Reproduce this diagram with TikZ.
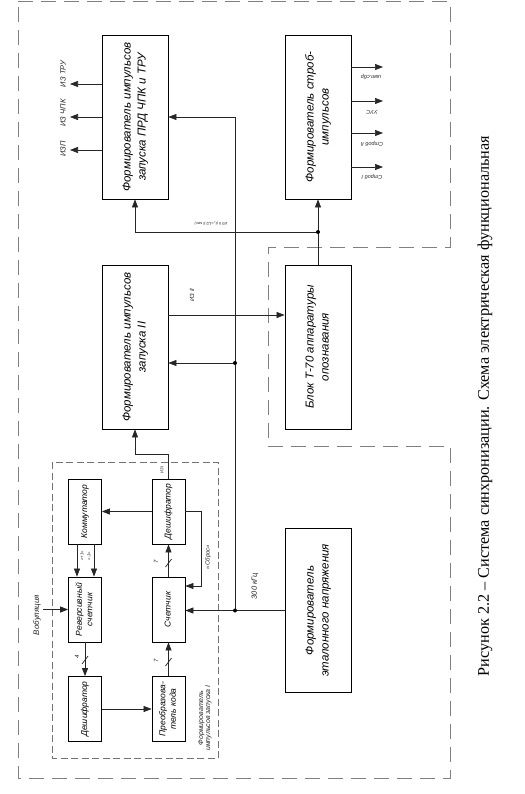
\documentclass[tikz,border=0pt]{standalone}
\usepackage{fontspec}
\setmainfont{Liberation Serif}
\newfontfamily\arial{Liberation Sans}
\usetikzlibrary{arrows.meta}
\newcommand{\rottext}[1]{\rotatebox{90}{\begin{tabular}{@{}c@{}}#1\end{tabular}}}
\begin{document}
\begin{tikzpicture}[x=1pt,y=-1pt,
  line/.style={draw=black!85, line width=0.7pt},
  arr/.style={line, -{Triangle[length=8pt,width=6pt]}},
  bigbox/.style={draw=black, line width=0.8pt, inner sep=0pt, minimum width=66pt, minimum height=164pt,
     font=\arial\itshape\fontsize{11.5}{15}\selectfont},
  smallbox/.style={draw=black, line width=0.8pt, inner sep=0pt, minimum width=33pt, minimum height=65pt,
     font=\arial\itshape\fontsize{8.5}{10.5}\selectfont},
  lab/.style={font=\arial\itshape\fontsize{#1}{#1}\selectfont, inner sep=0pt, text=black!85},
  outerdash/.style={draw=black!50, line width=1pt, dash pattern=on 15pt off 8pt},
  innerdash/.style={draw=black!55, line width=0.8pt, dash pattern=on 7pt off 3.5pt},
  dot/.style={circle, fill=black, inner sep=0pt, minimum size=4pt}
]
\useasboundingbox (0,0) rectangle (524,794);
\fill[white] (0,0) rectangle (524,794);

% dashed frames
\draw[outerdash] (18,2) -- (450,2) -- (450,247) -- (268,247) -- (268,446) -- (450,446) -- (450,778) -- (18,778) -- cycle;
\draw[innerdash] (52,462) rectangle (218,758);

% big boxes
\node[bigbox] (prd) at (135,117) {\rottext{Формирователь импульсов\\запуска ПРД ЧПК и ТРУ}};
\node[bigbox] (strob) at (318,117) {\rottext{Формирователь строб-\\импульсов}};
\node[bigbox] (f2) at (135,347) {\rottext{Формирователь импульсов\\запуска II}};
\node[bigbox] (t70) at (318,347) {\rottext{Блок Т-70 аппаратуры\\опознавания}};
\node[bigbox] (etal) at (318,610.5) {\rottext{Формирователь\\эталонного напряжения}};

% small boxes
\node[smallbox] (komm) at (85,511.5) {\rottext{Коммутатор}};
\node[smallbox] (desh1) at (168.5,511.5) {\rottext{Дешифратор}};
\node[smallbox] (rev) at (85,609.5) {\rottext{Реверсивный\\счетчик}};
\node[smallbox] (cnt) at (168.5,609.5) {\rottext{Счетчик}};
\node[smallbox] (desh2) at (85,709) {\rottext{Дешифратор}};
\node[smallbox] (conv) at (168.5,709) {\rottext{Преобразова-\\тель кода}};

% coordinates
\coordinate (busb) at (235,610.5);
\coordinate (busm) at (235,363);
\coordinate (sdot) at (318,232);
\coordinate (vob) at (43,609.5);
\coordinate (o1) at (70,84);
\coordinate (o2) at (70,117);
\coordinate (o3) at (70,150);
\coordinate (s1) at (383,67);
\coordinate (s2) at (383,101);
\coordinate (s3) at (383,133);
\coordinate (s4) at (383,167);

% outputs of prd
\draw[arr] (prd.west |- o1) -- (o1);
\draw[arr] (prd.west |- o2) -- (o2);
\draw[arr] (prd.west |- o3) -- (o3);
\node[lab=7.5, rotate=90] (l1) at (63,74) {ИЗ ТРУ};
\node[lab=7.5, rotate=90] (l2) at (63,113) {ИЗ ЧПК};
\node[lab=7.5, rotate=90] (l3) at (63,149) {ИЗП};

% outputs of strob
\draw[arr] (strob.east |- s1) -- (s1);
\draw[arr] (strob.east |- s2) -- (s2);
\draw[arr] (strob.east |- s3) -- (s3);
\draw[arr] (strob.east |- s4) -- (s4);
\node[lab=5.5, rotate=180] (m1) at (371,77) {имп.сбр};
\node[lab=5.5, rotate=180] (m2) at (372,112) {УУС};
\node[lab=5.5, rotate=180] (m3) at (372,144) {Строб II};
\node[lab=5.5, rotate=180] (m4) at (372,177) {Строб I};

% T-70 to strob, branch to prd
\draw[arr] (t70.north) -- (strob.south);
\draw[arr] (sdot) -| (prd.south);
\node[dot] at (sdot) {};
\node[lab=3.8, rotate=180] (iz2t) at (211,223) {ИЗ II (t\textsubscript{з}=1/2,5 мкс)};

% f2 to t70
\draw[arr] (f2.east |- 0,315) -- (t70.west |- 0,315);
\node[lab=6, rotate=90] (iz2) at (192,295) {ИЗ II};

% bus 300 kHz
\draw[arr] (etal.west) -- (cnt.east |- etal.west);
\draw[arr] (busb) |- (prd.east);
\draw[arr] (busm) -- (f2.east |- busm);
\node[dot] at (busb) {};
\node[dot] at (busm) {};
\node[lab=7.5, rotate=90] (khz) at (255,586) {300 кГц};

% inner block connections
\draw[arr] (desh1.north) -- (desh1.north |- 0,454) -| (f2.south);
\node[lab=4.2, rotate=90] (iz1) at (162,470) {ИЗ I};
\draw[arr] (desh1.west) -- (komm.east);
\draw[arr] (desh1.east) -- (201,511.5) -- (201,586) -- (cnt.east |- 0,586);
\node[lab=6, rotate=90] (sbr) at (208,557) {«Сброс»};
\draw[arr] (komm.south -| 77,0) -- (rev.north -| 77,0);
\draw[arr] (komm.south -| 94,0) -- (rev.north -| 94,0);
\node[lab=4.3, rotate=90] (p1) at (82,556) {«+1»};
\node[lab=4.3, rotate=90] (m1x) at (89,556) {«-1»};
\draw[arr] (vob) -- (rev.west);
\node[lab=8, rotate=90] (vobl) at (37,615) {Вобуляция};
\draw[arr] (rev.south) -- (desh2.north);
\draw[line] (82,664) -- (88,656);
\node[lab=6, rotate=90] (n4) at (77,657) {4};
\draw[arr] (desh2.east) -- (conv.west);
\draw[arr] (conv.north) -- (cnt.south);
\draw[line] (165.5,666) -- (171.5,658);
\node[lab=6, rotate=90] (n7a) at (156,661) {7};
\draw[arr] (cnt.north) -- (desh1.south);
\draw[line] (165.5,567) -- (171.5,559);
\node[lab=6, rotate=90] (n7b) at (156,562) {7};
\node[lab=7, rotate=90, align=center] (fi1) at (205,718) {Формирователь\\импульсов запуска I};

% caption
\node[rotate=90, font=\fontsize{16.2}{19}\selectfont, inner sep=0pt] (cap) at (485,406) {Рисунок 2.2 – Система синхронизации. Схема электрическая функциональная};
\end{tikzpicture}
\end{document}
